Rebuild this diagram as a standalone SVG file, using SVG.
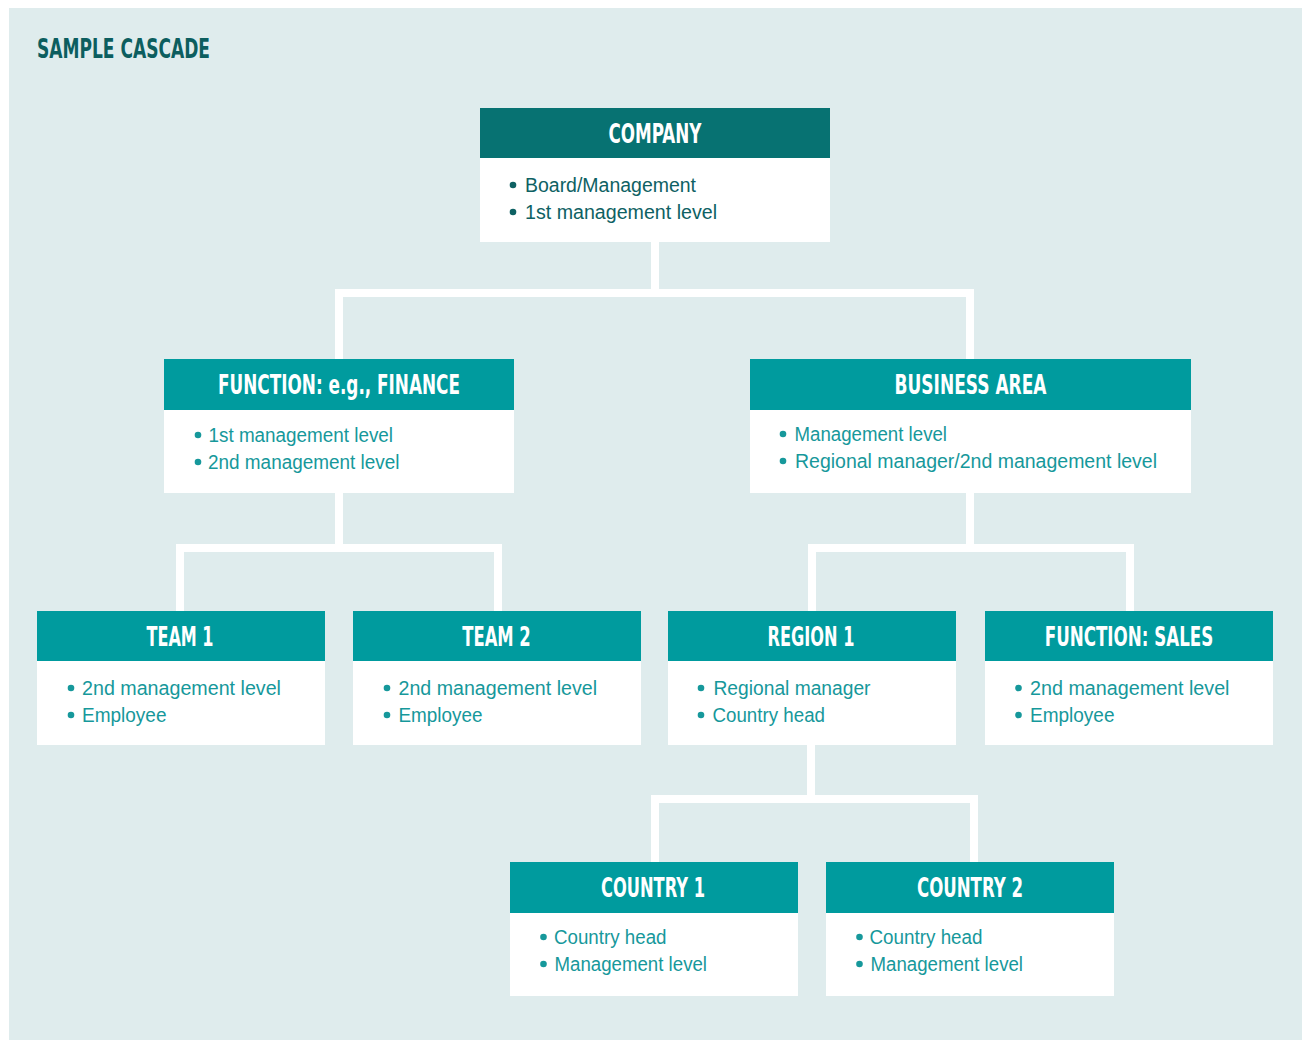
<svg xmlns="http://www.w3.org/2000/svg" width="1307" height="1040" viewBox="0 0 1307 1040">
  <style>
    .bg { fill: #dfeced; }
    .box { fill: #ffffff; }
    .head { fill: #009b9e; }
    .head-dark { fill: #077272; }
    .title { font-family: "Liberation Sans Narrow", "DejaVu Sans Condensed", "Liberation Sans", sans-serif; font-weight: bold; font-stretch: condensed; font-size: 26px; fill: #0c5e5f; }
    .htxt { font-family: "Liberation Sans Narrow", "DejaVu Sans Condensed", "Liberation Sans", sans-serif; font-weight: bold; font-stretch: condensed; font-size: 26px; fill: #ffffff; text-anchor: middle; }
    .btxt { font-family: "Liberation Sans", "Noto Sans", sans-serif; font-size: 20px; fill: #16989b; }
    .btxt-dark { font-family: "Liberation Sans", "Noto Sans", sans-serif; font-size: 20px; fill: #0e6163; }
    .dot { fill: #16989b; }
    .dot-dark { fill: #0e6163; }
    .link { fill: none; stroke: #ffffff; stroke-width: 8; stroke-linejoin: miter; stroke-linecap: butt; }
  </style>

  <rect class="bg" x="9" y="8" width="1293" height="1032"/>

  <text class="title" x="37" y="58" textLength="173" lengthAdjust="spacingAndGlyphs">SAMPLE CASCADE</text>

  <!-- connectors -->
  <g id="connectors">
    <path class="link" d="M655 242 V293 M339 359 V293 H970 V359"/>
    <path class="link" d="M339 493 V548 M180 611 V548 H498 V611"/>
    <path class="link" d="M970 493 V548 M812 611 V548 H1130 V611"/>
    <path class="link" d="M811 745 V799 M655 862 V799 H974 V862"/>
  </g>

  <!-- level 1 -->
  <g id="company">
    <rect class="box" x="480" y="108" width="350" height="134"/>
    <rect class="head-dark" x="480" y="108" width="350" height="50"/>
    <text class="htxt" x="655" y="143" textLength="93" lengthAdjust="spacingAndGlyphs">COMPANY</text>
    <circle class="dot-dark" cx="513" cy="185" r="3.3"/>
    <text class="btxt-dark" x="525" y="192" textLength="171" lengthAdjust="spacingAndGlyphs">Board/Management</text>
    <circle class="dot-dark" cx="513" cy="212" r="3.3"/>
    <text class="btxt-dark" x="525" y="219" textLength="192" lengthAdjust="spacingAndGlyphs">1st management level</text>
  </g>

  <!-- level 2 -->
  <g id="function-finance">
    <rect class="box" x="164" y="359" width="350" height="134"/>
    <rect class="head" x="164" y="359" width="350" height="51"/>
    <text class="htxt" x="339" y="394" textLength="242" lengthAdjust="spacingAndGlyphs">FUNCTION: e.g., FINANCE</text>
    <circle class="dot" cx="198" cy="435" r="3.3"/>
    <text class="btxt" x="208.5" y="442" textLength="184.5" lengthAdjust="spacingAndGlyphs">1st management level</text>
    <circle class="dot" cx="198" cy="462" r="3.3"/>
    <text class="btxt" x="208" y="469" textLength="191.5" lengthAdjust="spacingAndGlyphs">2nd management level</text>
  </g>

  <g id="business-area">
    <rect class="box" x="750" y="359" width="441" height="134"/>
    <rect class="head" x="750" y="359" width="441" height="51"/>
    <text class="htxt" x="970.5" y="394" textLength="152" lengthAdjust="spacingAndGlyphs">BUSINESS AREA</text>
    <circle class="dot" cx="783" cy="434" r="3.3"/>
    <text class="btxt" x="794.5" y="441" textLength="152.5" lengthAdjust="spacingAndGlyphs">Management level</text>
    <circle class="dot" cx="783" cy="461" r="3.3"/>
    <text class="btxt" x="795" y="468" textLength="362" lengthAdjust="spacingAndGlyphs">Regional manager/2nd management level</text>
  </g>

  <!-- level 3 -->
  <g id="team-1">
    <rect class="box" x="37" y="611" width="288" height="134"/>
    <rect class="head" x="37" y="611" width="288" height="50"/>
    <text class="htxt" x="180" y="646" textLength="67" lengthAdjust="spacingAndGlyphs">TEAM 1</text>
    <circle class="dot" cx="71" cy="688" r="3.3"/>
    <text class="btxt" x="82" y="695" textLength="199" lengthAdjust="spacingAndGlyphs">2nd management level</text>
    <circle class="dot" cx="71" cy="715" r="3.3"/>
    <text class="btxt" x="82" y="722" textLength="84.5" lengthAdjust="spacingAndGlyphs">Employee</text>
  </g>

  <g id="team-2">
    <rect class="box" x="353" y="611" width="288" height="134"/>
    <rect class="head" x="353" y="611" width="288" height="50"/>
    <text class="htxt" x="496.5" y="646" textLength="68.5" lengthAdjust="spacingAndGlyphs">TEAM 2</text>
    <circle class="dot" cx="387" cy="688" r="3.3"/>
    <text class="btxt" x="398.5" y="695" textLength="198.5" lengthAdjust="spacingAndGlyphs">2nd management level</text>
    <circle class="dot" cx="387" cy="715" r="3.3"/>
    <text class="btxt" x="398.5" y="722" textLength="84" lengthAdjust="spacingAndGlyphs">Employee</text>
  </g>

  <g id="region-1">
    <rect class="box" x="668" y="611" width="288" height="134"/>
    <rect class="head" x="668" y="611" width="288" height="50"/>
    <text class="htxt" x="811" y="646" textLength="87" lengthAdjust="spacingAndGlyphs">REGION 1</text>
    <circle class="dot" cx="701" cy="688" r="3.3"/>
    <text class="btxt" x="713.5" y="695" textLength="157" lengthAdjust="spacingAndGlyphs">Regional manager</text>
    <circle class="dot" cx="701" cy="715" r="3.3"/>
    <text class="btxt" x="712.5" y="722" textLength="112.5" lengthAdjust="spacingAndGlyphs">Country head</text>
  </g>

  <g id="function-sales">
    <rect class="box" x="985" y="611" width="288" height="134"/>
    <rect class="head" x="985" y="611" width="288" height="50"/>
    <text class="htxt" x="1129" y="646" textLength="168.5" lengthAdjust="spacingAndGlyphs">FUNCTION: SALES</text>
    <circle class="dot" cx="1018.5" cy="688" r="3.3"/>
    <text class="btxt" x="1030" y="695" textLength="199.5" lengthAdjust="spacingAndGlyphs">2nd management level</text>
    <circle class="dot" cx="1018.5" cy="715" r="3.3"/>
    <text class="btxt" x="1030" y="722" textLength="84.5" lengthAdjust="spacingAndGlyphs">Employee</text>
  </g>

  <!-- level 4 -->
  <g id="country-1">
    <rect class="box" x="510" y="862" width="288" height="134"/>
    <rect class="head" x="510" y="862" width="288" height="51"/>
    <text class="htxt" x="653" y="897" textLength="104" lengthAdjust="spacingAndGlyphs">COUNTRY 1</text>
    <circle class="dot" cx="543.5" cy="937" r="3.3"/>
    <text class="btxt" x="554" y="944" textLength="112.5" lengthAdjust="spacingAndGlyphs">Country head</text>
    <circle class="dot" cx="543.5" cy="964" r="3.3"/>
    <text class="btxt" x="554.5" y="971" textLength="152.5" lengthAdjust="spacingAndGlyphs">Management level</text>
  </g>

  <g id="country-2">
    <rect class="box" x="826" y="862" width="288" height="134"/>
    <rect class="head" x="826" y="862" width="288" height="51"/>
    <text class="htxt" x="970" y="897" textLength="106" lengthAdjust="spacingAndGlyphs">COUNTRY 2</text>
    <circle class="dot" cx="859.5" cy="937" r="3.3"/>
    <text class="btxt" x="869.5" y="944" textLength="113" lengthAdjust="spacingAndGlyphs">Country head</text>
    <circle class="dot" cx="859.5" cy="964" r="3.3"/>
    <text class="btxt" x="870.5" y="971" textLength="152.5" lengthAdjust="spacingAndGlyphs">Management level</text>
  </g>
</svg>
